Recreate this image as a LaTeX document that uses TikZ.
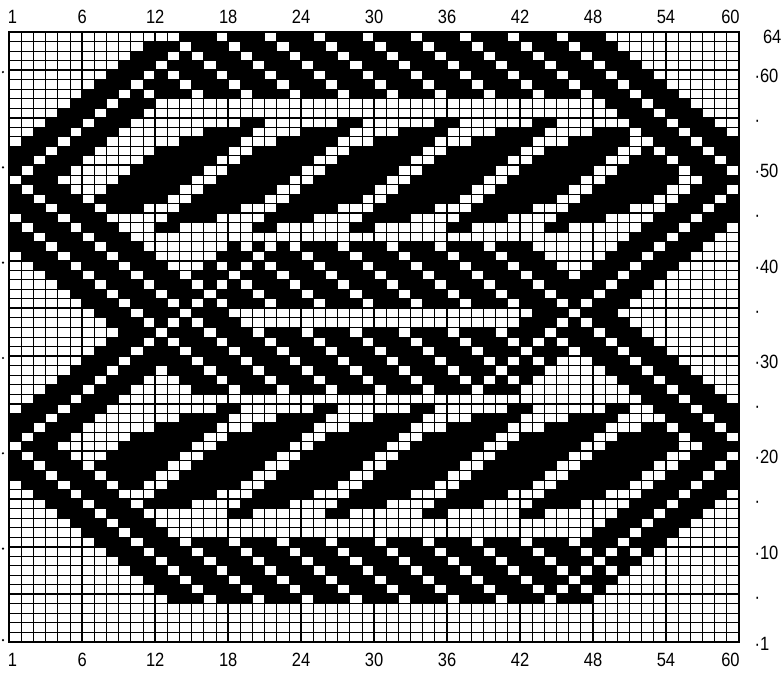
\documentclass[tikz,border=0pt]{standalone}
\usepackage{fontspec}
\setmainfont[FakeStretch=0.86]{Liberation Sans}

\begin{document}
\begin{tikzpicture}[x=6.08pt,y=4.765pt,font=\fontsize{9.6}{11}\selectfont,
  thinline/.style={black,line width=.45pt},
  heavyline/.style={black,line width=1pt}]
\useasboundingbox (-0.765,-3.46) rectangle (63.54,67.36);
% chart cells: sm = col+row (falling lines), df = row-col (rising lines)
\foreach \r in {1,...,64}{
  \foreach \c in {1,...,60}{
    \pgfmathtruncatemacro\sm{\c+\r}
    \pgfmathtruncatemacro\df{\r-\c}
    % rising arms
    \pgfmathtruncatemacro\asc{(\df>=45&&\df<=51&&\sm>=47&&\r<=63)||(\df>=17&&\df<=23&&\sm>=19&&\r<=42)||(\df>=-15&&\df<=-9&&\r>=27)||(\df>=-43&&\df<=-37&&\r>=5)}
    % falling arms and the four bands
    \pgfmathtruncatemacro\desc{(\sm>=107&&\sm<=113)||(\sm>=43&&\sm<=53&&\r>=27)||(\sm>=79&&\sm<=85&&\r<=42)||(\sm>=19&&\sm<=25&&\r>=5)||(\r>=58&&\df<=49&&\sm<=113)||(\r>=36&&\r<=42&&\df<=23&&\sm<=85)||(\r>=27&&\r<=33&&\sm>=43&&\df>=-15)||(\r>=5&&\r<=11&&\sm>=19&&\df>=-43)}
    \pgfmathtruncatemacro\hole{(\asc&&mod(\df+100,4)==0)||(\desc&&mod(\sm,4)==2)}
    % leaves
    \pgfmathtruncatemacro\zone{(\r>=44&&\r<=55&&\sm>=55&&\df<=41&&\sm<=105&&\df>=-7)||(\r>=14&&\r<=25&&\sm>=27&&\df<=11&&\sm<=77&&\df>=-35)}
    \pgfmathtruncatemacro\qq{\r>=44 ? \r-44 : \r-14}
    \pgfmathtruncatemacro\pp{\r>=44 ? mod(807-\df,8) : mod(811-\df,8)}
    \pgfmathtruncatemacro\leaf{\zone&&((\qq==0&&\pp<=1)||(\qq==1&&\pp<=3)||(\qq==2&&\pp<=4)||(\qq>=3&&\qq<=8&&\pp<=5)||(\qq==9&&\pp>=1&&\pp<=5)||(\qq==10&&\pp>=2&&\pp<=5)||(\qq==11&&\pp>=4&&\pp<=5))}
    \pgfmathtruncatemacro\ink{((\asc||\desc)&&\hole==0)||\leaf}
    \ifnum\ink=1 \fill (\c-1,\r-1) rectangle (\c,\r);\fi
  }
}
% grid
\draw[thinline,step=1] (0,0) grid (60,64);
\foreach \c in {6,12,...,54}
  \draw[heavyline] (\c,0)--(\c,64);
\foreach \r in {5,10,...,60}
  \draw[heavyline] (0,\r)--(60,\r);
\draw[heavyline] (0,0) rectangle (60,64);
% column numbers
\foreach \c in {6,12,...,54} {
  \node at (\c,65.6) {\c};
  \node at (\c,-1.9) {\c};
}
\node at (0.25,65.6) {1};
\node at (0.25,-1.9) {1};
\node at (59.3,65.6) {60};
\node at (59.3,-1.9) {60};
% row numbers
\node[anchor=west] at (61.4,63.5) {64};
\foreach \r in {10,20,...,60}
  \node[anchor=west] at (60.7,\r-0.6) {·\r};
\foreach \r in {5,15,...,55}
  \node[anchor=west] at (60.7,\r-0.6) {·};
\node[anchor=west] at (60.7,-0.2) {·1};
\foreach \r in {10,20,...,60}
  \fill (-0.52,\r-0.2) circle (0.6pt);
\fill (-0.52,0.2) circle (0.6pt);
\end{tikzpicture}
\end{document}
